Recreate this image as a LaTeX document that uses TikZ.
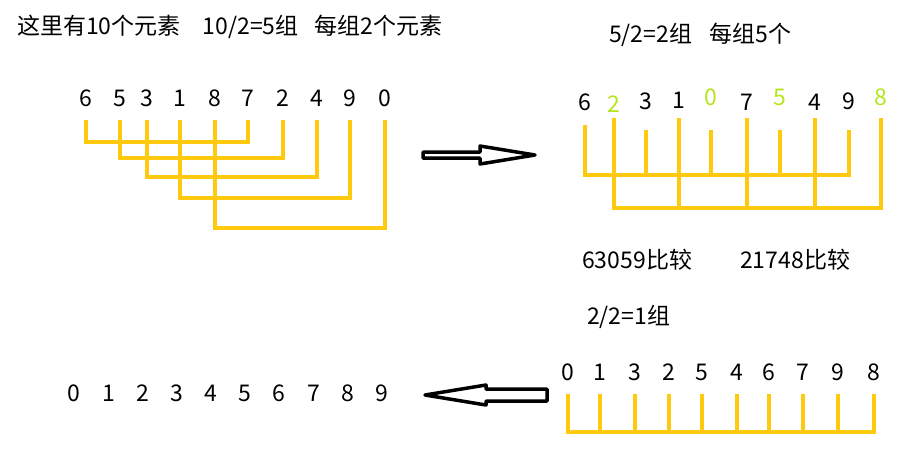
\documentclass[tikz,border=0pt]{standalone}
\usepackage{fontspec}
\setmainfont{Noto Sans CJK SC}
\usetikzlibrary{positioning}
\definecolor{combgold}{HTML}{FFC90E}
\definecolor{marklime}{HTML}{B5E61D}

\begin{document}
\begin{tikzpicture}[x=1pt, y=-1pt,
  font=\fontsize{23}{27}\selectfont,
  num/.style={inner sep=0pt},
  hi/.style={num, text=marklime},
  note/.style={inner sep=0pt, anchor=west},
  bar/.style={draw=combgold, line width=4pt, line join=miter, line cap=rect},
  hollow/.style={draw=black, line width=3.5pt, line join=round, fill=white},
]
  \useasboundingbox (0,0) rectangle (908,456);

  % ---- first pass: 10 elements, gap 5 -------------------------------------
  \node[note] (title) at (17,27)
    {这里有10个元素\hspace{22pt}10/2=5组\hspace{16pt}每组2个元素};
  \foreach \v/\x [count=\i] in {6/86,5/120,3/147,1/180,8/215,7/248,2/283,4/317,9/350,0/385}
    \node[num] (a\i) at (\x,98) {\v};
  \foreach \i/\low in {1/142,2/158,3/177,4/198,5/228} {
    \pgfmathtruncatemacro\j{\i+5}
    \draw[bar] (a\i |- 0,122) |- (a\j |- 0,\low) -- (a\j |- 0,122);
  }

  \draw[hollow] (423,152) -- (480,152) -- (480,146) -- (535,155) -- (480,164)
    -- (480,158) -- (423,158) -- cycle;

  % ---- second pass: gap 2 --------------------------------------------------
  \node[note] (step2) at (609,35) {5/2=2组\hspace{17pt}每组5个};
  \foreach \v/\x/\y/\s [count=\i] in {6/585/102/num,2/614/104/hi,3/646/101/num,
      1/679/100/num,0/711/97/hi,7/747/102/num,5/780/97/hi,4/815/102/num,
      9/849/101/num,8/881/97/hi}
    \node[\s] (r\i) at (\x,\y) {\v};
  \draw[bar] (r1 |- 0,127) -- (r1 |- 0,175) -- (r9 |- 0,175);
  \foreach \i in {3,5,7,9}
    \draw[bar] (r\i |- 0,132) -- (r\i |- 0,175);
  \draw[bar] (r2 |- 0,120) |- (r10 |- 0,208) -- (r10 |- 0,120);
  \foreach \i in {4,6,8}
    \draw[bar] (r\i |- 0,120) -- (r\i |- 0,208);

  \node[note] (cmp1) at (582,260) {63059比较};
  \node[note] (cmp2) at (740,260) {21748比较};

  % ---- last pass: gap 1 ----------------------------------------------------
  \node[note] (step3) at (587,317) {2/2=1组};
  \foreach \v/\x [count=\i] in {0/568,1/600,3/635,2/669,5/702,4/737,6/769,7/803,9/838,8/874}
    \node[num] (b\i) at (\x,372) {\v};
  \draw[bar] (b1 |- 0,396) |- (b10 |- 0,432) -- (b10 |- 0,396);
  \foreach \i in {2,...,9}
    \draw[bar] (b\i |- 0,396) -- (b\i |- 0,432);

  \draw[hollow] (425,395) -- (486,385) -- (486,389) -- (547,389) -- (547,401)
    -- (486,401) -- (486,405) -- cycle;

  \foreach \v/\x [count=\i] in {0/74,1/109,2/143,3/177,4/211,5/245,6/279,7/314,8/348,9/382}
    \node[num] (c\i) at (\x,393) {\v};
\end{tikzpicture}
\end{document}
